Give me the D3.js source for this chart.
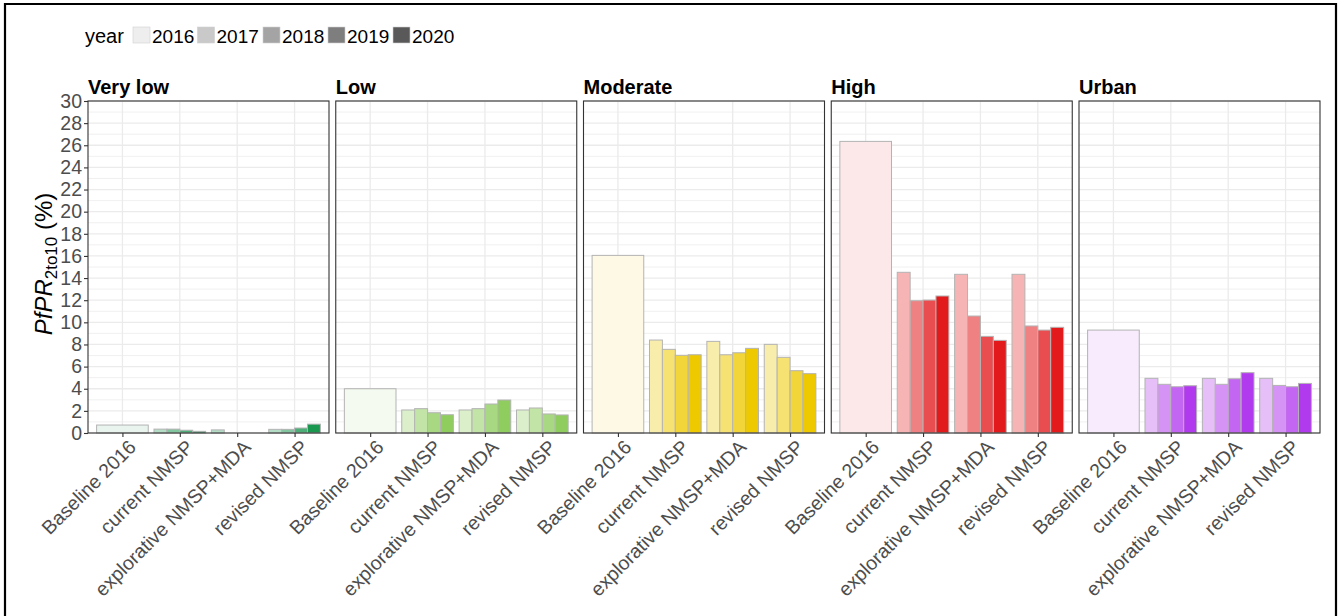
<!DOCTYPE html>
<html>
<head>
<meta charset="utf-8">
<script src="https://cdn.jsdelivr.net/npm/d3@7"></script>
<style>
  html, body { margin: 0; padding: 0; background: #fff; }
  svg { display: block; font-family: "Liberation Sans", Arial, sans-serif; }
</style>
</head>
<body>
<svg id="chart" width="1338" height="616"></svg>
<script>
// Scenario categories on the x axis of every facet
const categories = ["Baseline 2016", "current NMSP", "explorative NMSP+MDA", "revised NMSP"];
// Years mapped to transparency
const years = ["2016", "2017", "2018", "2019", "2020"];
const projectionYears = ["2017", "2018", "2019", "2020"];
// Transmission strata (facets) and their colours
const regions = ["Very low", "Low", "Moderate", "High", "Urban"];
const regionColors = ["#1a9850", "#8fce5e", "#eec900", "#e31a1c", "#b23aee"];
// PfPR 2-10 (%) per stratum
const baseline2016 = [0.72, 4.0, 16.05, 26.35, 9.3];
const currentNMSP = [
  [0.35, 0.35, 0.25, 0.15],
  [2.08, 2.2, 1.83, 1.65],
  [8.4, 7.56, 7.02, 7.07],
  [14.52, 11.95, 12.01, 12.38],
  [4.94, 4.4, 4.18, 4.27]
];
const explorativeMDA = [
  [0.28, 0, 0, 0],
  [2.08, 2.2, 2.62, 2.98],
  [8.28, 7.07, 7.25, 7.65],
  [14.34, 10.57, 8.73, 8.37],
  [4.94, 4.4, 4.9, 5.45]
];
const revisedNMSP = [
  [0.33, 0.33, 0.45, 0.8],
  [2.08, 2.26, 1.72, 1.63],
  [8.01, 6.84, 5.63, 5.36],
  [14.34, 9.67, 9.3, 9.55],
  [4.94, 4.3, 4.18, 4.48]
];
const yTicks = [0, 2, 4, 6, 8, 10, 12, 14, 16, 18, 20, 22, 24, 26, 28, 30];

const svg = d3.select("#chart");
const FONT = 19;

// image frame
svg.append("path")
  .attr("d", "M5,616 V4 H1336 V616")
  .attr("fill", "none").attr("stroke", "#000").attr("stroke-width", 2.2);

// layout
const panelTop = 101, panelBottom = 433;
const firstLeft = 88, panelW = 241, panelStep = 247.75;

const y = d3.scaleLinear().domain([0, 30]).range([panelBottom, panelTop]);
const alpha = d3.scaleLinear().domain([0, years.length - 1]).range([0.1, 1]);
const yearAlpha = y2 => alpha(years.indexOf(y2));

// legend
const legend = svg.append("g");
legend.append("text").attr("x", 85).attr("y", 43).attr("font-size", FONT + 1).attr("fill", "#000").text("year");
const keyX = [133, 197.5, 263, 328, 393];
years.forEach((yr, i) => {
  legend.append("rect")
    .attr("x", keyX[i]).attr("y", 27).attr("width", 17).attr("height", 16)
    .attr("fill", "#595959").attr("fill-opacity", yearAlpha(yr))
    .attr("stroke", "#cfcfcf").attr("stroke-width", 0.6);
  legend.append("text").attr("x", keyX[i] + 19).attr("y", 42.5)
    .attr("font-size", FONT).attr("fill", "#000").text(yr);
});

// y axis title
const yTitle = svg.append("text")
  .attr("transform", "translate(52,264) rotate(-90)")
  .attr("text-anchor", "middle").attr("font-size", 24).attr("fill", "#000");
yTitle.append("tspan").attr("font-style", "italic").text("PfPR");
yTitle.append("tspan").attr("font-size", 17).attr("dy", 5).text("2to10");
yTitle.append("tspan").attr("dy", -5).text(" (%)");

regions.forEach((region, r) => {
  const x0 = firstLeft + r * panelStep;
  const x = d3.scalePoint().domain(categories).range([x0, x0 + panelW]).padding(0.6);
  const step = x.step();
  const g = svg.append("g");

  // grid: minor every 1, major every 2
  g.selectAll("line.minor").data(d3.range(1, 30, 2)).join("line")
    .attr("x1", x0).attr("x2", x0 + panelW)
    .attr("y1", d => y(d)).attr("y2", d => y(d))
    .attr("stroke", "#ececec").attr("stroke-width", 0.8);
  g.selectAll("line.major").data(yTicks).join("line")
    .attr("x1", x0).attr("x2", x0 + panelW)
    .attr("y1", d => y(d)).attr("y2", d => y(d))
    .attr("stroke", "#ebebeb").attr("stroke-width", 1.3);
  g.selectAll("line.vmajor").data(categories).join("line")
    .attr("x1", d => x(d)).attr("x2", d => x(d))
    .attr("y1", panelTop).attr("y2", panelBottom)
    .attr("stroke", "#ebebeb").attr("stroke-width", 1.3);

  // bars
  const bars = [];
  bars.push({ x: x(categories[0]) - 0.45 * step, w: 0.9 * step, v: baseline2016[r], yr: "2016" });
  [currentNMSP, explorativeMDA, revisedNMSP].forEach((series, s) => {
    const c = x(categories[s + 1]);
    const inner = d3.scaleBand().domain(projectionYears).range([c - 0.45 * step, c + 0.45 * step]);
    series[r].forEach((v, i) => {
      if (v > 0) bars.push({ x: inner(projectionYears[i]), w: inner.bandwidth(), v, yr: projectionYears[i] });
    });
  });
  g.selectAll("rect.bar").data(bars).join("rect")
    .attr("x", d => d.x).attr("width", d => d.w)
    .attr("y", d => y(d.v)).attr("height", d => y(0) - y(d.v))
    .attr("fill", "#fff")
    .clone(true)
    .attr("fill", regionColors[r]).attr("fill-opacity", d => yearAlpha(d.yr))
    .attr("stroke", "#b3b3b3").attr("stroke-width", 1);

  // panel border
  g.append("rect").attr("x", x0).attr("y", panelTop).attr("width", panelW).attr("height", panelBottom - panelTop)
    .attr("fill", "none").attr("stroke", "#333").attr("stroke-width", 1.1);

  // strip title
  g.append("text").attr("x", x0).attr("y", 94).attr("font-size", 20).attr("font-weight", "bold")
    .attr("fill", "#000").text(region);

  // x axis
  const xAxis = g.append("g").attr("transform", `translate(0,${panelBottom})`)
    .call(d3.axisBottom(x).tickSize(4).tickSizeOuter(0).tickPadding(0));
  xAxis.select(".domain").remove();
  xAxis.selectAll(".tick line").attr("stroke", "#333").attr("stroke-width", 1.1);
  xAxis.selectAll(".tick text")
    .attr("font-size", FONT + 0.5).attr("font-family", "Liberation Sans, Arial, sans-serif").attr("fill", "#4d4d4d")
    .attr("text-anchor", "end").attr("transform", "translate(4,5) rotate(-45)")
    .attr("dy", "0.75em").attr("y", 0).attr("x", 0);

  // y axis on first facet
  if (r === 0) {
    const yAxis = g.append("g").attr("transform", `translate(${x0},0)`)
      .call(d3.axisLeft(y).tickValues(yTicks).tickSize(4).tickSizeOuter(0).tickPadding(2));
    yAxis.select(".domain").remove();
    yAxis.selectAll(".tick line").attr("stroke", "#333").attr("stroke-width", 1.1);
    yAxis.selectAll(".tick text").attr("font-size", FONT + 0.5)
      .attr("font-family", "Liberation Sans, Arial, sans-serif").attr("fill", "#4d4d4d");
  }
});
</script>
</body>
</html>
